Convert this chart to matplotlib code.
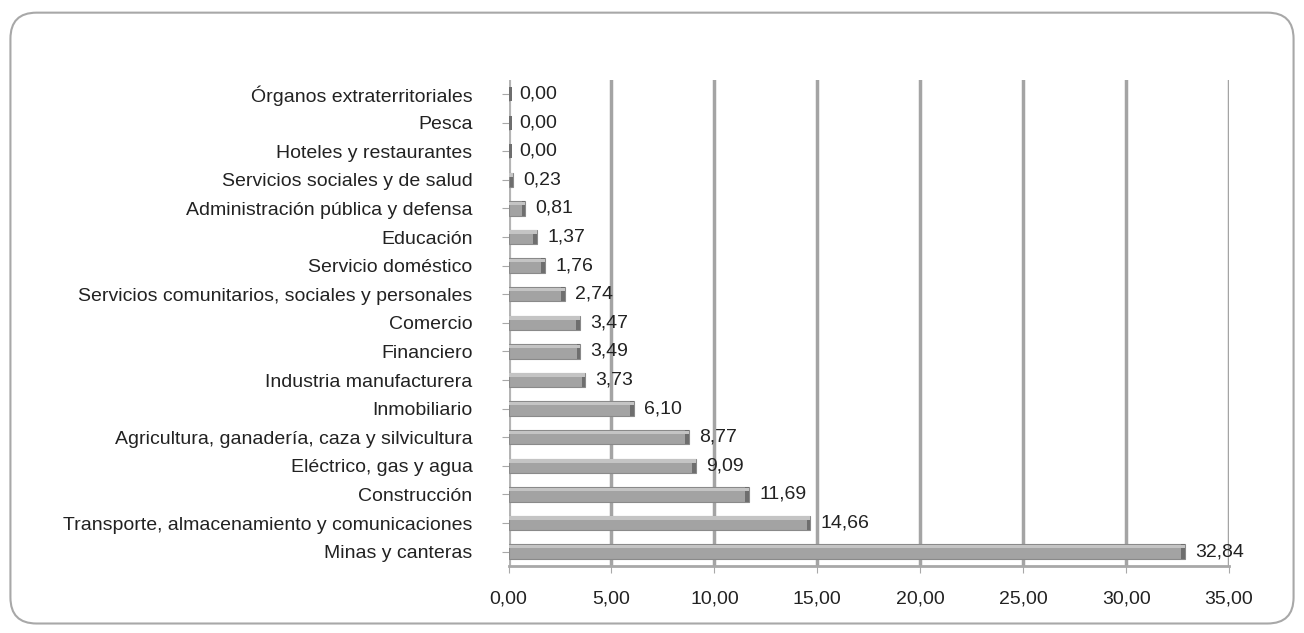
import matplotlib.pyplot as plt
from matplotlib.patches import FancyBboxPatch

categories = ["Minas y canteras",
              "Transporte, almacenamiento y comunicaciones",
              "Construcción",
              "Eléctrico, gas y agua",
              "Agricultura, ganadería, caza y silvicultura",
              "Inmobiliario",
              "Industria manufacturera",
              "Financiero",
              "Comercio",
              "Servicios comunitarios, sociales y personales",
              "Servicio doméstico",
              "Educación",
              "Administración pública y defensa",
              "Servicios sociales y de salud",
              "Hoteles y restaurantes",
              "Pesca",
              "Órganos extraterritoriales"]
values = [32.84, 14.66, 11.69, 9.09, 8.77, 6.10, 3.73, 3.49, 3.47, 2.74,
          1.76, 1.37, 0.81, 0.23, 0.00, 0.00, 0.00]
xticks = [0, 5, 10, 15, 20, 25, 30, 35]

plt.rcParams['font.family'] = ['Liberation Sans', 'DejaVu Sans']
fs = 14

fig = plt.figure(figsize=(13.04, 6.33), dpi=100)
# rounded frame
frame = FancyBboxPatch((0.008, 0.015), 0.984, 0.965, boxstyle="round,pad=0,rounding_size=0.02",
                       transform=fig.transFigure, facecolor='none', edgecolor='#a8a8a8',
                       linewidth=1.5, mutation_aspect=2.06, zorder=-1)
fig.patches.append(frame)

ax = fig.add_axes([0.390, 0.106, 0.5525, 0.768])
ax.patch.set_alpha(0)
ypos = list(range(len(categories)))

for x in xticks[1:]:
    ax.axvline(x, color='#a4a4a4', linewidth=2.5, zorder=0)
ax.axvline(0, color='#b4b4b4', linewidth=3, zorder=0)

bars = ax.barh(ypos, values, height=0.5, color='#a3a3a3', edgecolor='#8a8a8a', linewidth=0.8, zorder=2)
# darker end cap for a bit of 3D look
caps = ax.barh(ypos, [0.18] * len(values), left=[max(v - 0.18, 0) for v in values], height=0.5,
               color='#6e6e6e', edgecolor='none', zorder=3)
# top face highlight
ax.barh([y + 0.17 for y in ypos], values, height=0.12, color='#c4c4c4', edgecolor='none', zorder=3)

for y, v in zip(ypos, values):
    ax.text(v + 0.5, y, f"{v:.2f}".replace('.', ','), va='center', ha='left', fontsize=fs, color='#222222')

ax.set_xlim(0, 35)
ax.set_ylim(-0.5, len(categories) - 0.5)
ax.set_yticks(ypos)
ax.set_yticklabels(categories, fontsize=fs, color='#222222')
ax.set_xticks(xticks)
ax.set_xticklabels([f"{t:.2f}".replace('.', ',') for t in xticks], fontsize=fs, color='#222222')
ax.tick_params(axis='y', length=5, color='#a8a8a8', pad=21)
ax.tick_params(axis='x', length=5, color='#a8a8a8', pad=13)
for s in ['top', 'right', 'left']:
    ax.spines[s].set_visible(False)
ax.spines['bottom'].set_color('#a8a8a8')
ax.spines['bottom'].set_linewidth(2)

fig.savefig("out.png", dpi=100)
